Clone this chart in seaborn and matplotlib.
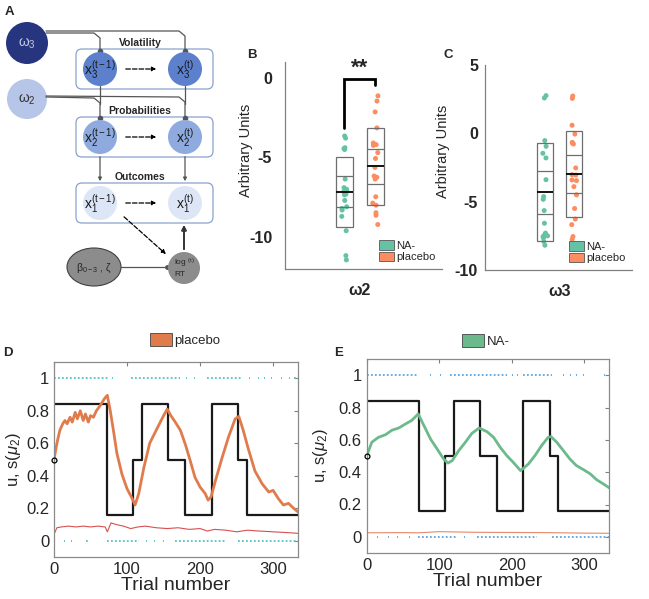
import numpy as np
import pandas as pd
import seaborn as sns
import matplotlib.pyplot as plt
from matplotlib.patches import Rectangle, Circle, Ellipse, FancyBboxPatch, Patch

# ---------------- data ----------------
# panel B (omega2) and C (omega3), one point per subject
w2_na = [-3.66, -3.79, -4.39, -4.51, -4.45, -6.36, -6.9, -7.0, -7.1, -7.15,
         -7.3, -7.35, -7.7, -8.1, -8.2, -8.3, -8.7, -9.6, -11.16, -11.43]
w2_pl = [-1.14, -1.47, -2.15, -3.15, -4.1, -4.2, -4.25, -4.7, -5.07, -5.63,
         -6.17, -6.25, -6.36, -7.47, -7.87, -8.0, -8.47, -8.63, -9.21]
w3_na = [2.76, 2.59, -0.53, -0.95, -1.46, -1.8, -3.39, -4.63, -4.83, -5.65,
         -6.58, -7.3, -7.4, -7.5, -7.55, -7.6, -7.65, -7.45, -7.92, -8.19]
w3_pl = [2.73, 2.56, 0.59, -0.05, -0.66, -0.72, -0.78, -2.53, -3.02, -3.05,
         -3.41, -3.46, -3.9, -4.5, -5.5, -6.27, -6.68, -7.55, -7.75]
# box summaries: outer low, inner low, mean, inner high, outer high
w2_na_box = [-9.36, -8.12, -7.16, -6.19, -4.95]
w2_pl_box = [-7.99, -6.66, -5.57, -4.49, -3.15]
w3_na_box = [-7.9, -5.9, -4.31, -2.73, -0.73]
w3_pl_box = [-6.09, -4.39, -2.97, -1.56, 0.2]
groups = ['NA-', 'placebo']

# panel D / E: true probability blocks
block_start = [0, 72, 108, 120, 156, 180, 216, 252, 264, 336]
block_prob = [0.84, 0.16, 0.5, 0.84, 0.5, 0.16, 0.84, 0.5, 0.16, 0.16]

# placebo belief trajectory s(mu2)
pl_trial = [0, 4, 8, 12, 15, 18, 22, 25, 29, 32, 36, 40, 43, 47, 50, 54, 58, 63, 67, 70,
            73, 77, 82, 86, 93, 100, 107, 111, 116, 123, 131, 141, 150, 155, 160, 166,
            173, 180, 186, 193, 200, 207, 211, 215, 221, 230, 239, 248, 253, 259, 266,
            275, 285, 294, 300, 307, 314, 321, 328, 336]
pl_mu = [0.50, 0.60, 0.68, 0.72, 0.74, 0.72, 0.76, 0.73, 0.79, 0.75, 0.80, 0.74, 0.78,
         0.73, 0.77, 0.76, 0.80, 0.83, 0.86, 0.88, 0.895, 0.80, 0.66, 0.54, 0.41, 0.32,
         0.26, 0.22, 0.29, 0.45, 0.60, 0.69, 0.77, 0.81, 0.77, 0.73, 0.68, 0.59, 0.50,
         0.39, 0.33, 0.29, 0.25, 0.27, 0.37, 0.51, 0.64, 0.75, 0.765, 0.68, 0.565, 0.43,
         0.35, 0.30, 0.31, 0.26, 0.22, 0.23, 0.20, 0.17]
pl_sa_trial = [0, 4, 10, 20, 30, 40, 50, 60, 70, 73, 78, 85, 95, 105, 115, 125, 140, 155,
               170, 185, 200, 210, 220, 235, 250, 265, 280, 300, 320, 336]
pl_sa = [0.04, 0.08, 0.085, 0.09, 0.085, 0.09, 0.085, 0.09, 0.085, 0.055, 0.11, 0.10,
         0.09, 0.075, 0.085, 0.09, 0.08, 0.075, 0.08, 0.07, 0.075, 0.06, 0.07, 0.065,
         0.055, 0.065, 0.06, 0.055, 0.05, 0.045]

# NA- belief trajectory
na_trial = [0, 7, 16, 26, 35, 44, 53, 62, 71, 79, 88, 97, 106, 112, 118, 127, 136, 145,
            155, 166, 175, 184, 193, 203, 212, 215, 223, 232, 241, 250, 254, 262, 271,
            280, 289, 299, 308, 317, 326, 336]
na_mu = [0.50, 0.585, 0.615, 0.632, 0.66, 0.673, 0.697, 0.72, 0.76, 0.687, 0.605, 0.544,
         0.482, 0.456, 0.472, 0.534, 0.585, 0.64, 0.673, 0.65, 0.615, 0.554, 0.503, 0.456,
         0.41, 0.42, 0.451, 0.503, 0.564, 0.615, 0.62, 0.585, 0.534, 0.482, 0.441, 0.415,
         0.39, 0.353, 0.328, 0.298]
na_sa_trial = [0, 50, 72, 100, 150, 200, 250, 300, 336]
na_sa = [0.025, 0.026, 0.025, 0.032, 0.028, 0.027, 0.026, 0.023, 0.022]

# runs of observed outcomes (trial start, trial end)
pl_one_start = [0, 80, 87, 98, 106, 181, 192, 209, 261, 267, 279, 288, 297, 311, 322, 329]
pl_one_end = [75, 81, 88, 99, 172, 182, 193, 258, 262, 268, 280, 289, 298, 312, 323, 336]
pl_zero_start = [14, 23, 35, 44, 72, 126, 137, 149, 166, 252]
pl_zero_end = [15, 24, 36, 49, 116, 127, 138, 150, 236, 336]
na_one_start = [0, 87, 101, 115, 200, 207, 216, 262, 271, 280, 289, 298, 327]
na_one_end = [71, 88, 102, 193, 201, 208, 255, 263, 272, 281, 290, 299, 328]
na_zero_start = [14, 22, 30, 42, 58, 71, 134, 152, 255]
na_zero_end = [15, 23, 31, 43, 59, 124, 135, 235, 334]

# ---------------- style ----------------
sns.set_style('white')
plt.rcParams['font.family'] = ['Liberation Sans', 'DejaVu Sans']
plt.rcParams['mathtext.fontset'] = 'custom'
plt.rcParams['mathtext.rm'] = 'Liberation Sans'
plt.rcParams['mathtext.it'] = 'Liberation Sans:italic'
np.random.seed(0)  # fixed strip jitter

green, orange = sns.color_palette('Set2')[0], sns.color_palette('Set2')[1]
W, H = 649, 599
fig = plt.figure(figsize=(W / 100, H / 100), dpi=100)


def px_axes(l, t, r, b):
    return fig.add_axes([l / W, 1 - b / H, (r - l) / W, (b - t) / H])


# ---------------- panel A: model schematic ----------------
ax_a = px_axes(0, 0, 220, 300)
ax_a.set_xlim(0, 220)
ax_a.set_ylim(300, 0)
ax_a.axis('off')
line_c = '#555555'
for y0, title in [(49, 'Volatility'), (117, 'Probabilities'), (183, 'Outcomes')]:
    ax_a.add_patch(FancyBboxPatch((76, y0), 137, 40, boxstyle='round,pad=0,rounding_size=6',
                                  fc='white', ec='#8aa2cc', lw=0.9))
    ax_a.text(140, y0 - 6, title, ha='center', va='center', fontsize=7.5, fontweight='bold')
node_cols = ['#5c80cc', '#8eaade', '#dde6f6']
for k, (yc, col) in enumerate(zip([69, 137, 203], node_cols)):
    lvl = 3 - k
    for xc, sup in [(100, 't-1'), (185, 't')]:
        ax_a.add_patch(Circle((xc, yc), 17, fc=col, ec='none', zorder=3))
        ax_a.text(xc, yc + 1, r'$\mathregular{x_%d^{(%s)}}$' % (lvl, sup), ha='center',
                  va='center', fontsize=10, color='#1a1a1a', zorder=4)
    ax_a.annotate('', xy=(159, yc), xytext=(123, yc),
                  arrowprops=dict(arrowstyle='-|>', ls='--', color='k', lw=0.9,
                                  mutation_scale=6))
# omega nodes
ax_a.add_patch(Circle((27, 43), 21, fc='#27357f', ec='none'))
ax_a.text(27, 44, r'$\mathregular{\omega_3}$', ha='center', va='center', fontsize=10,
          color='#c5cbe6')
ax_a.add_patch(Circle((27, 99), 20, fc='#b7c5e8', ec='none'))
ax_a.text(27, 100, r'$\mathregular{\omega_2}$', ha='center', va='center', fontsize=10,
          color='#333333')
for xe, yoff in [(100, 33), (185, 31)]:
    ax_a.plot([46, xe - 6, xe, xe], [yoff, yoff, yoff + 5, 51], color=line_c, lw=0.9)
    ax_a.plot(xe, 51, 'o', color=line_c, ms=3)
for xe, yoff in [(100, 97), (185, 96)]:
    ax_a.plot([46, xe - 6, xe, xe], [yoff, yoff + 1, yoff + 6, 118], color=line_c, lw=0.9)
    ax_a.plot(xe, 118, 'o', color=line_c, ms=3)
    ax_a.plot([xe, xe], [86, 104], color=line_c, lw=0.9)
    ax_a.annotate('', xy=(xe, 184), xytext=(xe, 154),
                  arrowprops=dict(arrowstyle='-|>', color=line_c, lw=0.9, mutation_scale=5))
# RT node and response parameters
ax_a.add_patch(Circle((184, 268), 16, fc='#8c8c8c', ec='none', zorder=3))
ax_a.text(184, 263, r'log $\mathregular{^{(t)}}$', ha='center', va='center', fontsize=6,
          color='#262626', zorder=4)
ax_a.text(180, 275, 'RT', ha='center', va='center', fontsize=6, color='#262626', zorder=4)
ax_a.add_patch(Ellipse((94, 267), 54, 38, fc='#8c8c8c', ec='#404040', lw=0.8))
ax_a.text(94, 268, r'$\mathregular{\beta_{0-3}}$ , ζ', ha='center', va='center',
          fontsize=7.5, color='#262626')
ax_a.plot([121, 167], [267, 267], color=line_c, lw=0.9)
ax_a.plot(167, 267, 'o', color=line_c, ms=2.5)
ax_a.annotate('', xy=(168, 256), xytext=(122, 215),
              arrowprops=dict(arrowstyle='-|>', ls='--', color='k', lw=0.9, mutation_scale=6))
ax_a.annotate('', xy=(184, 222), xytext=(184, 252),
              arrowprops=dict(arrowstyle='-|>', color='#333333', lw=1.4, mutation_scale=7))
fig.text(5 / W, 1 - 12 / H, 'A', fontsize=9.5, fontweight='bold', va='center')


# ---------------- panels B and C ----------------
def param_panel(ax, label, na_vals, pl_vals, na_box, pl_box, ylim, yticks, xlim, ypad):
    df = pd.DataFrame({'param': label,
                       'group': ['NA-'] * len(na_vals) + ['placebo'] * len(pl_vals),
                       'value': na_vals + pl_vals})
    sns.stripplot(data=df, x='param', y='value', hue='group', hue_order=groups, dodge=True,
                  jitter=0.07, palette=[green, orange], size=3.6, linewidth=0,
                  legend=False, ax=ax, zorder=2)
    for pos, box in zip([-0.2, 0.2], [na_box, pl_box]):
        ax.add_patch(Rectangle((pos - 0.11, box[0]), 0.22, box[4] - box[0], fill=False,
                               ec='#6e6e6e', lw=0.9, zorder=3))
        ax.hlines([box[1], box[3]], pos - 0.11, pos + 0.11, colors='#6e6e6e', lw=0.9,
                  zorder=3)
        ax.hlines(box[2], pos - 0.11, pos + 0.11, colors='#111111', lw=1.4, zorder=4)
    ax.set_xlim(*xlim)
    ax.set_ylim(*ylim)
    ax.set_yticks(yticks)
    ax.set_yticklabels([str(v) for v in yticks], fontsize=11.5, fontweight='bold')
    ax.set_xticks([0])
    ax.set_xticklabels([label], fontsize=11.5, fontweight='bold')
    ax.set_xlabel('')
    ax.set_ylabel('Arbitrary Units', fontsize=10.5)
    ax.tick_params(direction='in', length=2.5, color='#808080')
    ax.tick_params(axis='y', pad=ypad)
    ax.tick_params(axis='x', pad=10)
    sns.despine(ax=ax)
    for s in ['left', 'bottom']:
        ax.spines[s].set_color('#808080')
        ax.spines[s].set_linewidth(0.9)
    ax.legend(handles=[Patch(fc=green, ec='#555555', lw=0.6, label='NA-'),
                       Patch(fc=orange, ec='#555555', lw=0.6, label='placebo')],
              loc='lower right', frameon=False, fontsize=8, handlelength=1.4,
              handleheight=0.9, handletextpad=0.15, labelspacing=0.1, borderpad=0,
              borderaxespad=0.6)


ax_b = px_axes(284.7, 61.7, 442, 269)
param_panel(ax_b, 'ω2', w2_na, w2_pl, w2_na_box, w2_pl_box, (-12, 1), [-10, -5, 0],
            (-0.97, 1.06), 9)
ax_b.yaxis.set_label_coords(-0.2, 0.57)
# significance bracket
y_left = max(w2_na) + 0.5
y_top = max(w2_pl) + 1.05
ax_b.plot([-0.2, -0.2, 0.2, 0.2], [y_left, y_top, y_top, y_top - 0.35], color='k', lw=2,
          solid_joinstyle='miter')
ax_b.text(0, y_top + 0.05, '**', ha='center', va='bottom', fontsize=16, fontweight='bold')
fig.text(247 / W, 1 - 55 / H, 'B', fontsize=9.5, fontweight='bold', va='center')

ax_c = px_axes(485, 65, 632, 270)
param_panel(ax_c, 'ω3', w3_na, w3_pl, w3_na_box, w3_pl_box, (-10, 5), [-10, -5, 0, 5],
            (-1.03, 1.0), 5)
ax_c.yaxis.set_label_coords(-0.24, 0.58)
fig.text(444 / W, 1 - 55 / H, 'C', fontsize=9.5, fontweight='bold', va='center')


# ---------------- panels D and E ----------------
def traj_panel(ax, tr, mu, sa_tr, sa, col, sa_col, out_col, one_s, one_e, zero_s, zero_e,
               ylab_x):
    ax.hlines([1] * len(one_s), one_s, one_e, colors=out_col, linestyles=(0, (1, 1.2)),
              lw=1.3)
    ax.hlines([0] * len(zero_s), zero_s, zero_e, colors=out_col, linestyles=(0, (1, 1.2)),
              lw=1.3)
    sns.lineplot(x=block_start, y=block_prob, drawstyle='steps-post', color='#1a1a1a',
                 lw=1.6, ax=ax)
    sns.lineplot(x=sa_tr, y=sa, color=sa_col, lw=0.8, ax=ax)
    sns.lineplot(x=tr, y=mu, color=col, lw=2.0, ax=ax)
    ax.plot(tr[0], mu[0], 'o', mfc='none', mec='k', ms=3.5, mew=0.9, clip_on=False,
            zorder=5)
    ax.set_xlim(0, 334)
    ax.set_ylim(-0.1, 1.1)
    ax.set_xticks([0, 100, 200, 300])
    ax.set_yticks([0, 0.2, 0.4, 0.6, 0.8, 1])
    ax.set_yticklabels(['0', '0.2', '0.4', '0.6', '0.8', '1'])
    ax.tick_params(direction='in', length=3, labelsize=12, top=True, right=True,
                   color='#808080', labelcolor='#262626')
    ax.set_xlabel('Trial number', fontsize=14, labelpad=0)
    ax.set_ylabel(r'u, s($\mu_2$)', fontsize=12)
    ax.yaxis.set_label_coords(ylab_x, 0.5)
    for s in ax.spines.values():
        s.set_color('#8a8a8a')
        s.set_linewidth(0.9)


ax_d = px_axes(54, 362, 298, 557)
traj_panel(ax_d, pl_trial, pl_mu, pl_sa_trial, pl_sa, '#e07b4b', '#d65050', '#52c3c3',
           pl_one_start, pl_one_end, pl_zero_start, pl_zero_end, -0.128)
ax_d.legend(handles=[Patch(fc='#e07b4b', ec='#444444', lw=0.6, label='placebo')],
            loc='upper left', bbox_to_anchor=(150 / W, 1 - 333 / H),
            bbox_transform=fig.transFigure, frameon=False, fontsize=9.5, handlelength=1.7,
            handleheight=1.1, handletextpad=0.15, borderpad=0, borderaxespad=0)
fig.text(3 / W, 1 - 353 / H, 'D', fontsize=9.5, fontweight='bold', va='center')

ax_e = px_axes(366.7, 359, 609, 553)
traj_panel(ax_e, na_trial, na_mu, na_sa_trial, na_sa, '#6cba8c', '#e8886a', '#5ea6df',
           na_one_start, na_one_end, na_zero_start, na_zero_end, -0.15)
ax_e.legend(handles=[Patch(fc='#6cba8c', ec='#444444', lw=0.6, label='NA-')],
            loc='upper left', bbox_to_anchor=(462 / W, 1 - 334 / H),
            bbox_transform=fig.transFigure, frameon=False, fontsize=9.5, handlelength=1.7,
            handleheight=1.1, handletextpad=0.15, borderpad=0, borderaxespad=0)
fig.text(334 / W, 1 - 353 / H, 'E', fontsize=9.5, fontweight='bold', va='center')

fig.savefig('out.png', dpi=100)
